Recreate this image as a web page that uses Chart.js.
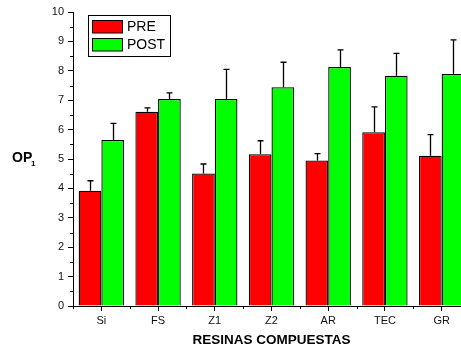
<!DOCTYPE html>
<html>
<head>
<meta charset="utf-8">
<script src="https://cdn.jsdelivr.net/npm/chart.js@4.4.0/dist/chart.umd.min.js"></script>
<style>
  html, body { margin: 0; padding: 0; background: #fff; overflow: hidden; width: 461px; height: 351px; }
  #wrap { position: absolute; left: 0; top: 0; width: 480px; height: 351px; }
</style>
</head>
<body>
<div id="wrap"><canvas id="chart" width="480" height="351"></canvas></div>
<script>
const categories = ["Si", "FS", "Z1", "Z2", "AR", "TEC", "GR"];
const preValues = [3.92, 6.61, 4.51, 5.16, 4.95, 5.91, 5.11];
const preErrors = [0.34, 0.13, 0.32, 0.46, 0.23, 0.86, 0.72];
const postValues = [5.65, 7.04, 7.04, 7.44, 8.13, 7.83, 7.89];
const postErrors = [0.56, 0.21, 1.01, 0.85, 0.58, 0.76, 1.16];
const yTicks = [0, 1, 2, 3, 4, 5, 6, 7, 8, 9, 10];

const FONT = "'Liberation Sans', Arial, sans-serif";

////////////////////////////////
// Error bars (upper half only) + minor ticks + legend + y label
////////////////////////////////
const extras = {
  id: "extras",
  afterDatasetsDraw(chart) {
    const ctx = chart.ctx;
    const y = chart.scales.y;
    const x = chart.scales.x;
    ctx.save();
    ctx.strokeStyle = "#000";
    ctx.lineWidth = 1.3;
    chart.data.datasets.forEach(function (ds, di) {
      const meta = chart.getDatasetMeta(di);
      meta.data.forEach(function (bar, i) {
        const top = y.getPixelForValue(ds.data[i] + ds.errors[i]);
        const cx = Math.round(bar.x) + 0.5;
        ctx.beginPath();
        ctx.moveTo(cx, bar.y);
        ctx.lineTo(cx, top);
        ctx.moveTo(cx - 3, top);
        ctx.lineTo(cx + 3, top);
        ctx.stroke();
      });
    });

    // minor ticks
    ctx.lineWidth = 1;
    for (let v = 0.5; v < 10; v += 1) {
      const py = Math.round(y.getPixelForValue(v)) + 0.5;
      ctx.beginPath();
      ctx.moveTo(x.left - 3, py);
      ctx.lineTo(x.left, py);
      ctx.stroke();
    }
    for (let i = 0; i <= categories.length; i++) {
      const px = Math.round(x.getPixelForValue(i - 0.5)) + 0.5;
      ctx.beginPath();
      ctx.moveTo(px, y.bottom);
      ctx.lineTo(px, y.bottom + 3);
      ctx.stroke();
    }

    // legend
    ctx.lineWidth = 1;
    ctx.strokeStyle = "#000";
    ctx.fillStyle = "#fff";
    ctx.fillRect(88.5, 15.5, 82, 41);
    ctx.strokeRect(88.5, 15.5, 82, 41);
    ctx.font = "14px " + FONT;
    ctx.textBaseline = "middle";
    chart.data.datasets.forEach(function (ds, di) {
      const top = di === 0 ? 20.5 : 38.5;
      ctx.fillStyle = ds.backgroundColor;
      ctx.fillRect(92.5, top, 30, 12.5);
      ctx.strokeRect(92.5, top, 30, 12.5);
      ctx.fillStyle = "#000";
      ctx.fillText(ds.label, 127, top + 7);
    });

    // y label OP1
    ctx.font = "bold 14px " + FONT;
    ctx.textBaseline = "alphabetic";
    ctx.fillText("OP", 12, 162);
    ctx.font = "bold 8px " + FONT;
    ctx.fillText("1", 31, 166);
    ctx.restore();
  }
};

new Chart(document.getElementById("chart"), {
  type: "bar",
  data: {
    labels: categories,
    datasets: [
      {
        label: "PRE",
        data: preValues,
        errors: preErrors,
        backgroundColor: "#ff0000",
        borderColor: "#000",
        borderWidth: 1.3,
        borderSkipped: "bottom",
        categoryPercentage: 0.8,
        barPercentage: 1.0
      },
      {
        label: "POST",
        data: postValues,
        errors: postErrors,
        backgroundColor: "#00ff00",
        borderColor: "#000",
        borderWidth: 1.3,
        borderSkipped: "bottom",
        categoryPercentage: 0.8,
        barPercentage: 1.0
      }
    ]
  },
  options: {
    responsive: false,
    animation: false,
    layout: { padding: { left: 0, top: 12, right: 10, bottom: 0 } },
    plugins: {
      legend: { display: false },
      tooltip: { enabled: false }
    },
    scales: {
      x: {
        grid: { display: true, drawOnChartArea: false, offset: false, tickLength: 5, color: "#000", tickColor: "#000" },
        border: { display: true, color: "#000", width: 1 },
        ticks: { color: "#111", font: { family: FONT, size: 11 }, padding: 3 },
        title: { display: true, text: "RESINAS COMPUESTAS", color: "#000", font: { family: FONT, size: 13.5, weight: "bold" }, padding: { top: 6, bottom: 3 } },
        afterFit: function (scale) { scale.height = 45; }
      },
      y: {
        min: 0,
        max: 10,
        afterBuildTicks: function (scale) { scale.ticks = yTicks.map(v => ({ value: v })); },
        grid: { display: true, drawOnChartArea: false, tickLength: 5, color: "#000", tickColor: "#000" },
        border: { display: true, color: "#000", width: 1 },
        ticks: { color: "#111", font: { family: FONT, size: 11 }, padding: 4 },
        afterFit: function (scale) { scale.width = 73; }
      }
    }
  },
  plugins: [extras]
});
</script>
</body>
</html>
